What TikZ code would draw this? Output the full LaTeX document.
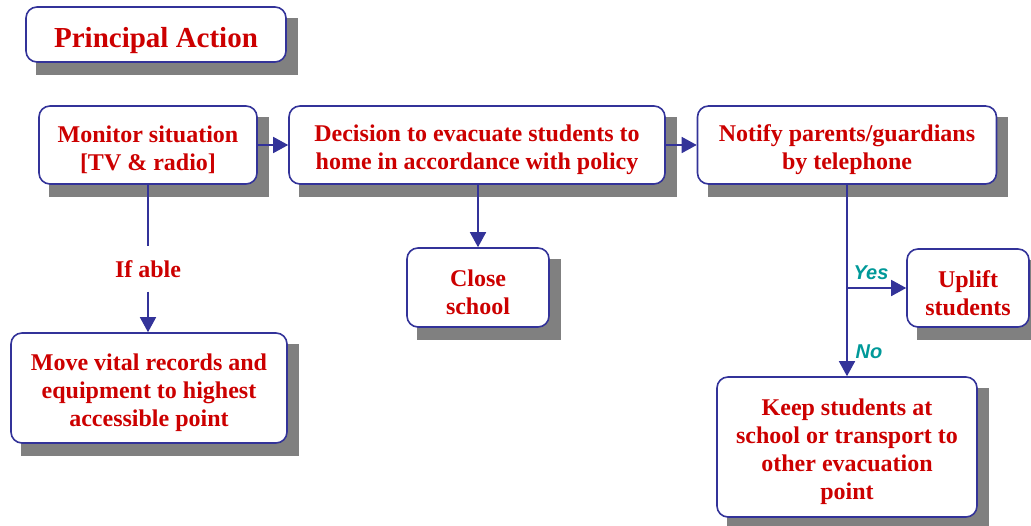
\documentclass[tikz,border=0pt]{standalone}
\usepackage{fontspec}
\setmainfont{Liberation Serif}
\newfontfamily\labfont{Liberation Sans}
\usetikzlibrary{backgrounds,arrows.meta,calc}
\definecolor{bord}{RGB}{51,51,153}
\definecolor{txt}{RGB}{204,0,0}
\definecolor{tealc}{RGB}{0,153,153}
\definecolor{shad}{RGB}{128,128,128}
\newcommand\toplift{\rule{0pt}{1.1em}}
\begin{document}
\begin{tikzpicture}[x=1pt,y=-1pt,
  box/.style={draw=bord, line width=1.6pt, fill=white, rounded corners=11pt,
    align=center, text=txt, inner sep=0pt,
    font=\fontsize{24}{28}\selectfont\bfseries},
  conn/.style={draw=bord, line width=1.6pt, -{Triangle[length=15pt,width=16pt]}},
  plain/.style={draw=bord, line width=1.6pt},
  lab/.style={text=tealc, inner sep=0pt, font=\labfont\fontsize{20}{24}\selectfont\bfseries\itshape},
  redlab/.style={text=txt, inner sep=0pt, minimum height=45pt, font=\fontsize{24}{28}\selectfont\bfseries}]
\useasboundingbox (0,0) rectangle (1031,525);

\node[box, minimum width=260pt, minimum height=55pt, font=\fontsize{29}{34}\selectfont\bfseries] (title) at (156,34.5) {\toplift Principal Action};
\node[box, minimum width=218pt, minimum height=78pt] (mon) at (148,145) {\toplift Monitor situation\\{}[TV \& radio]};
\node[box, minimum width=376pt, minimum height=78pt] (dec) at (477,145) {\toplift Decision to evacuate students to\\home in accordance with policy};
\node[box, minimum width=299pt, minimum height=78pt] (ntf) at (847,145) {\toplift Notify parents/guardians\\by telephone};
\node[box, minimum width=142pt, minimum height=79pt] (close) at (478,287.5) {\toplift Close\\school};
\node[box, minimum width=122pt, minimum height=78pt] (upl) at (968,288) {\toplift Uplift\\students};
\node[box, minimum width=276pt, minimum height=110pt] (move) at (149,388) {\toplift Move vital records and\\equipment to highest\\accessible point};
\node[box, minimum width=260pt, minimum height=140pt] (keep) at (847,447) {\toplift Keep students at\\school or transport to\\other evacuation\\point};

\begin{scope}[on background layer]
  \foreach \n in {title,mon,dec,ntf,close,upl,move,keep}
    \fill[shad] ($(\n.south west)+(11,12)$) rectangle ($(\n.north east)+(11,12)$);
\end{scope}

\node[redlab] (ifable) at (148,269) {If able};
\node[lab] (yes) at (871,273) {Yes};
\node[lab] (no) at (869,352) {No};

\draw[conn] (mon.east) -- (dec.west);
\draw[conn] (dec.east) -- (ntf.west);
\draw[conn] (close.north |- dec.south) -- (close.north);
\draw[plain] (mon.south) -- (ifable.north);
\draw[conn] (ifable.south) -- (ifable.south |- move.north);
\draw[conn] (ntf.south) -- (keep.north);
\coordinate (br) at (ntf.south |- upl.west);
\draw[conn] (br) -- (upl.west);
\end{tikzpicture}
\end{document}
